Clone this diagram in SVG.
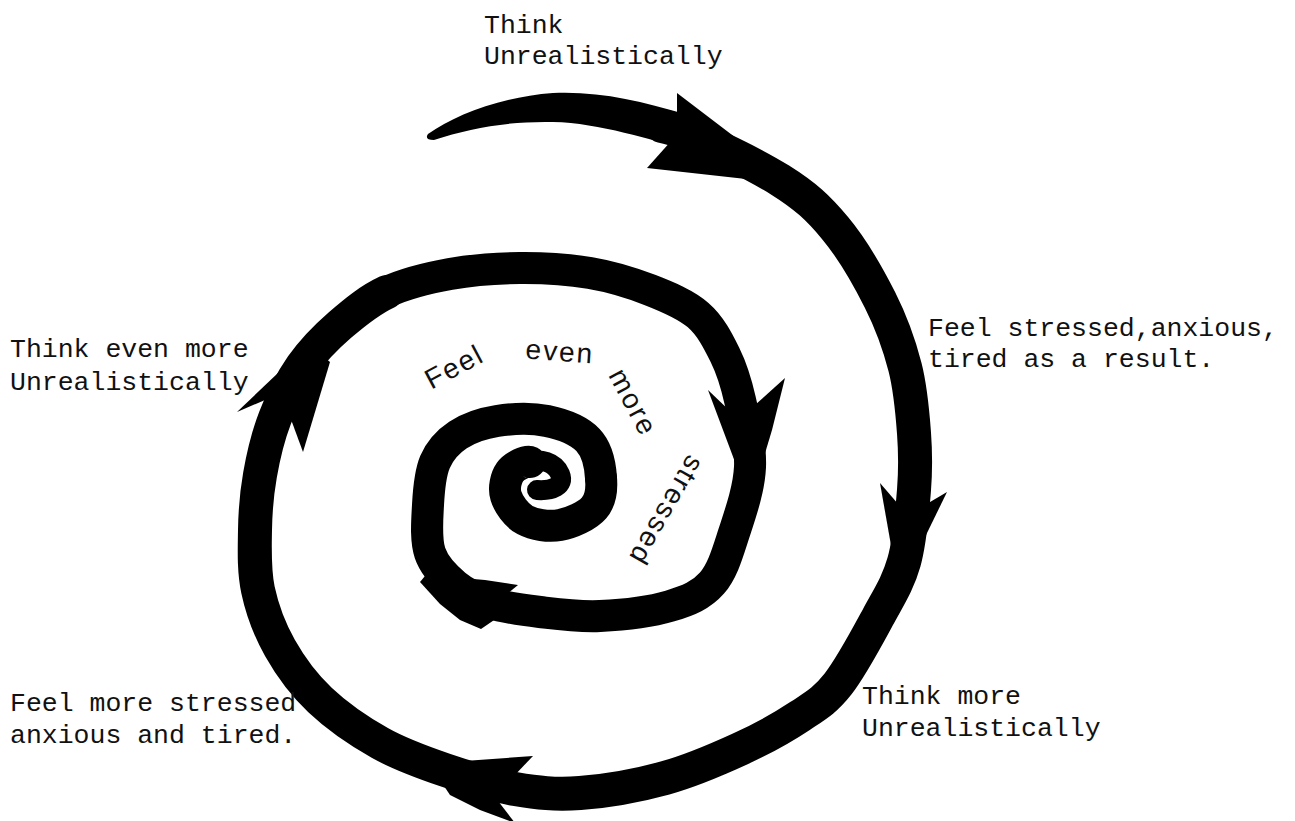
<svg xmlns="http://www.w3.org/2000/svg" width="1295" height="821" viewBox="0 0 1295 821">
<style>
.lbl{font-family:"Liberation Mono","DejaVu Sans Mono",monospace;font-size:26.5px;fill:#111}
.inner{font-family:"Liberation Sans",Arial,sans-serif;font-size:28px;fill:#111;letter-spacing:2px}
.shaft{fill:none;stroke:#000;stroke-linecap:round;stroke-linejoin:round}
.barb{fill:#000}
</style>
<rect width="1295" height="821" fill="#fff"/>
<g id="connectors">
<path d="M428,134 C455,115 500,97 553,93 C600,91 640,101 685,114 L690,150 C650,140 600,123 553,122 C510,121 470,128 434,140 Q424,140 428,134 Z" fill="#000"/>
<path class="shaft" stroke-width="34" d="M662,126 C668,127.5 674,129 680,131 C707.5,141.5 754.2,163.8 780,180 C805.8,196.2 818.3,208 835,228 C851.7,248 868.3,276.8 880,300 C891.7,323.2 899.3,344.8 905,367 C910.7,389.2 912.5,412.5 914,433 C915.5,453.5 915.7,468.5 914,490 C912.3,511.5 910,540.8 904,562 C898,583.2 889,596.7 878,617 C867,637.3 851,667.5 838,684 C825,700.5 816.3,705.2 800,716 C783.7,726.8 762.5,738.7 740,749 C717.5,759.3 691.7,770.7 665,778 C638.3,785.3 605,791.2 580,793 C555,794.8 537.5,792.8 515,789 C492.5,785.2 467.5,777.7 445,770 C422.5,762.3 400.8,754.7 380,743 C359.2,731.3 336.7,715.8 320,700 C303.3,684.2 290.3,666.3 280,648 C269.7,629.7 262.2,609.7 258,590 C253.8,570.3 254.7,549.2 255,530 C255.3,510.8 256.7,493.7 260,475 C263.3,456.3 268,436.2 275,418 C282,399.8 291.2,381.5 302,366 C312.8,350.5 325.8,337.3 340,325 C354.2,312.7 368.7,300.5 387,292"/>
<path class="shaft" stroke-width="32" d="M387,292 C405.3,283.5 427.8,278 450,274 C472.2,270 496.7,268.2 520,268 C543.3,267.8 568.3,269.3 590,273 C611.7,276.7 632,283 650,290 C668,297 685.5,304.2 698,315 C710.5,325.8 718,340.8 725,355 C732,369.2 735.8,381.3 740,400 C744.2,418.7 751,444.8 750,467 C749,489.2 740.3,513.7 734,533 C727.7,552.3 722.7,570.8 712,583 C701.3,595.2 688.7,600.5 670,606 C651.3,611.5 621.7,615 600,616 C578.3,617 558.3,614.2 540,612 C521.7,609.8 504.2,607.5 490,603 C475.8,598.5 465,593.3 455,585 C445,576.7 434.5,566.3 430,553 C425.5,539.7 427.2,520.2 428,505 C428.8,489.8 430,473.7 435,462 C440,450.3 447.7,441.8 458,435 C468.3,428.2 482.2,423.3 497,421 C511.8,418.7 531.8,417.8 547,421 C562.2,424.2 579,430.5 588,440 C597,449.5 600.3,466 601,478"/>
<path class="shaft" stroke-width="32" d="M601,478 C602,489.3 600.8,500.2 594,508 C587.2,515.8 571.5,523 560,525 C548.5,527 534,524.8 525,520 C516,515.2 508.5,504 506,496 C503.5,488 506,477.7 510,472 C514,466.3 526.7,460.3 530,462"/>
<path class="shaft" stroke-width="20" d="M528,462 C540,458 555,462 560,474 C565,486 552,491 537,490"/>
</g>
<g id="arrowheads">
<polygon class="barb" points="677,93 677,118 765,160"/>
<polygon class="barb" points="647,168 672,140 755,180"/>
<polygon class="barb" points="880,483 905,512 895,568"/>
<polygon class="barb" points="947,492 925,505 908,572"/>
<polygon class="barb" points="533,756 512,778 450,762"/>
<polygon class="barb" points="515,823 495,797 430,765 450,795 480,810"/>
<polygon class="barb" points="237,412 272,397 318,335"/>
<polygon class="barb" points="303,452 289,414 315,350 330,362"/>
<polygon class="barb" points="708,390 733,414 738,470"/>
<polygon class="barb" points="785,378 755,405 760,470 772,430"/>
<polygon class="barb" points="518,585 502,598 462,578 485,580"/>
<polygon class="barb" points="481,629 500,616 430,570 420,582 440,604 460,620"/>
</g>
<g id="label-think"><text class="lbl" x="484" y="33">Think</text><text class="lbl" x="484" y="64">Unrealistically</text></g>
<g id="label-feel-stressed"><text class="lbl" x="928" y="336">Feel stressed,anxious,</text><text class="lbl" x="928" y="367">tired as a result.</text></g>
<g id="label-think-more"><text class="lbl" x="862" y="704">Think more</text><text class="lbl" x="862" y="736">Unrealistically</text></g>
<g id="label-feel-more"><text class="lbl" x="10" y="711">Feel more stressed</text><text class="lbl" x="10" y="743">anxious and tired.</text></g>
<g id="label-think-even-more"><text class="lbl" x="10" y="357">Think even more</text><text class="lbl" x="10" y="390">Unrealistically</text></g>
<g id="label-inner">
<text class="inner" text-anchor="middle" transform="translate(455,368) rotate(-28)" y="8">Feel</text>
<text class="inner" text-anchor="middle" transform="translate(560,352) rotate(4)" y="9">even</text>
<text class="inner" text-anchor="middle" transform="translate(632,403) rotate(62)" y="8">more</text>
<text class="inner" text-anchor="middle" transform="translate(665,510) rotate(120)" y="8">stressed</text>
</g>
</svg>
